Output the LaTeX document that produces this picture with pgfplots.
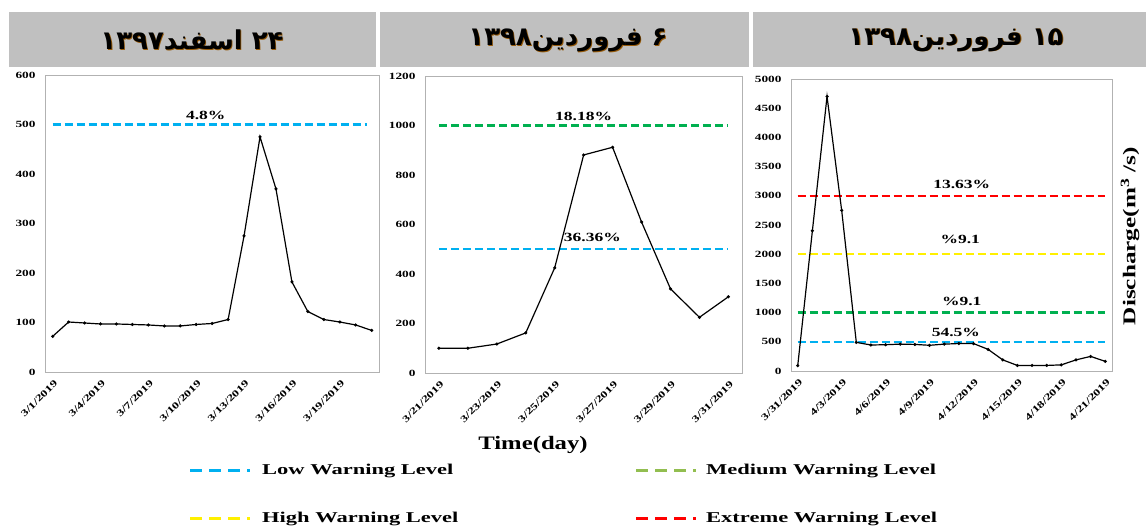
\documentclass[border=0pt]{standalone}
\usepackage{pgfplots}
\pgfplotsset{compat=1.18}
\usepackage{fontspec}
\setmainfont{Liberation Serif}
\newfontfamily\arabicfont[Script=Arabic]{DejaVu Sans}
\TeXXeTstate=1
\definecolor{lowc}{RGB}{0,176,240}
\definecolor{medc}{RGB}{0,176,80}
\definecolor{medleg}{RGB}{146,190,80}
\definecolor{highc}{RGB}{255,240,0}
\definecolor{extc}{RGB}{255,0,0}
\definecolor{hdr}{RGB}{192,192,192}
\definecolor{shadowc}{RGB}{150,90,10}
\newcommand\sx[1]{\scalebox{1.4}[1]{#1}}
\newcommand\tfont{\bfseries\fontsize{9.5}{10}\selectfont}
\newcommand\pfont{\bfseries\fontsize{12.5}{13}\selectfont}
\pgfplotsset{
  panel/.style={
    scale only axis, anchor=south west, clip=false,
    axis line style={draw=black!30, line width=0.8pt},
    ymin=0, major tick length=0pt, tick style={draw=none},
    /pgf/number format/assume math mode=true,
    /pgf/number format/1000 sep={},
    yticklabel={\sx{\pgfmathprintnumber{\tick}}},
    yticklabel style={font=\tfont, anchor=east, xshift=-6pt},
    xticklabel style={font=\tfont, yshift=-9pt, xshift=4pt, rotate=45, anchor=east, inner sep=1pt},
  },
  lvl/.style={line width=2.4pt, dash pattern=on 8pt off 4pt, forget plot},
  dat/.style={black, line width=1.2pt, mark=*, mark size=0.9pt, mark options={fill=black}},
}
\newcommand\ttl[1]{\fontsize{26}{28}\selectfont\bfseries\arabicfont #1}
\begin{document}
\begin{tikzpicture}[x=1pt,y=1pt]
\path[use as bounding box] (0pt,0pt) rectangle (1146pt,529pt);
% header bars
\fill[hdr] (9pt,462pt) rectangle (376pt,517pt);
\fill[hdr] (380pt,462pt) rectangle (749pt,517pt);
\fill[hdr] (753pt,462pt) rectangle (1146pt,517pt);
\foreach \cx/\t in {192/{\beginR\beginL ۲۴\endL{} اسفند\beginL۱۳۹۷\endL\endR},
                    568/{\beginR\beginL ۶\endL{} فروردین\beginL۱۳۹۸\endL\endR},
                    956/{\beginR\beginL ۱۵\endL{} فروردین\beginL۱۳۹۸\endL\endR}}{
  \node[text=shadowc] at (\cx pt+0.8pt,488.2pt) {\ttl{\t}};
  \node[text=black] at (\cx pt,489pt) {\ttl{\t}};
}
% panel 1
\begin{axis}[panel, at={(45pt,157pt)}, width=334pt, height=297pt,
  xmin=-0.48, xmax=20.46, ymax=600, ytick={0,100,...,600},
  xtick={0,3,...,18},
  xticklabels={\sx{3/1/2019},\sx{3/4/2019},\sx{3/7/2019},\sx{3/10/2019},\sx{3/13/2019},\sx{3/16/2019},\sx{3/19/2019}}]
\addplot[lvl, lowc] coordinates {(0,500) (19.7,500)};
\addplot[dat] coordinates {(0,72) (1,101) (2,99) (3,97) (4,97) (5,96) (6,95) (7,93) (8,93) (9,96) (10,98) (11,106) (12,275) (13,475) (14,370) (15,182) (16,122) (17,106) (18,101) (19,95) (20,84)};
\node[font=\pfont, anchor=south, yshift=1pt] at (axis cs:9.6,500) {\sx{4.8\%}};
\end{axis}
% panel 2
\begin{axis}[panel, at={(425pt,156pt)}, width=317pt, height=297pt,
  xmin=-0.48, xmax=10.47, ymax=1200, ytick={0,200,...,1200},
  xtick={0,2,...,10},
  xticklabels={\sx{3/21/2019},\sx{3/23/2019},\sx{3/25/2019},\sx{3/27/2019},\sx{3/29/2019},\sx{3/31/2019}}]
\addplot[lvl, medc] coordinates {(0,1000) (10,1000)};
\addplot[lvl, lowc] coordinates {(0,500) (10,500)};
\addplot[dat] coordinates {(0,100) (1,100) (2,117) (3,162) (4,425) (5,881) (6,912) (7,610) (8,340) (9,225) (10,308)};
\node[font=\pfont, anchor=south, yshift=1pt] at (axis cs:5.0,1000) {\sx{18.18\%}};
\node[font=\pfont, anchor=south, yshift=4pt] at (axis cs:5.3,500) {\sx{36.36\%}};
\end{axis}
% panel 3
\begin{axis}[panel, at={(791pt,158pt)}, width=321pt, height=292pt,
  xmin=-0.46, xmax=21.46, ymax=5000, ytick={0,500,...,5000},
  xtick={0,3,...,21},
  xticklabels={\sx{3/31/2019},\sx{4/3/2019},\sx{4/6/2019},\sx{4/9/2019},\sx{4/12/2019},\sx{4/15/2019},\sx{4/18/2019},\sx{4/21/2019}}]
\addplot[lvl, extc] coordinates {(0,3000) (21,3000)};
\addplot[lvl, highc] coordinates {(0,2000) (21,2000)};
\addplot[lvl, medc] coordinates {(0,1000) (21,1000)};
\addplot[lvl, lowc] coordinates {(0,500) (21,500)};
\addplot[dat] coordinates {(0,92) (1,2400) (2,4700) (3,2750) (4,490) (5,445) (6,450) (7,460) (8,455) (9,440) (10,460) (11,470) (12,470) (13,370) (14,190) (15,95) (16,95) (17,95) (18,105) (19,190) (20,250) (21,165)};
\node[font=\pfont, anchor=south, yshift=4pt] at (axis cs:11.2,3000) {\sx{13.63\%}};
\node[font=\pfont, anchor=south, yshift=7pt] at (axis cs:11.1,2000) {\sx{\%9.1}};
\node[font=\pfont, anchor=south, yshift=3pt] at (axis cs:11.2,1000) {\sx{\%9.1}};
\node[font=\pfont, anchor=south, yshift=2pt] at (axis cs:10.8,500) {\sx{54.5\%}};
\end{axis}
% axis titles
\node[font=\bfseries\fontsize{19}{20}\selectfont] at (533pt,84pt) {\scalebox{1.3}[1]{Time(day)}};
\node[font=\bfseries\fontsize{18}{20}\selectfont, rotate=90] at (1130pt,293pt) {\scalebox{1.4}[1]{Discharge(m$^{\mathbf{3}}$ /s)}};
% legend
\begin{scope}[line width=3pt, dash pattern=on 12pt off 7pt]
\draw[lowc] (190pt,58pt) -- (250pt,58pt);
\draw[medleg] (636pt,58pt) -- (696pt,58pt);
\draw[highc] (190pt,10pt) -- (250pt,10pt);
\draw[extc] (636pt,10pt) -- (696pt,10pt);
\end{scope}
\begin{scope}[every node/.style={font=\bfseries\fontsize{15}{16}\selectfont, anchor=west, inner sep=0pt}]
\node at (262pt,58pt) {\scalebox{1.5}[1]{Low Warning Level}};
\node at (706pt,58pt) {\scalebox{1.5}[1]{Medium Warning Level}};
\node at (262pt,10pt) {\scalebox{1.5}[1]{High Warning Level}};
\node at (706pt,10pt) {\scalebox{1.5}[1]{Extreme Warning Level}};
\end{scope}
\end{tikzpicture}
\end{document}
